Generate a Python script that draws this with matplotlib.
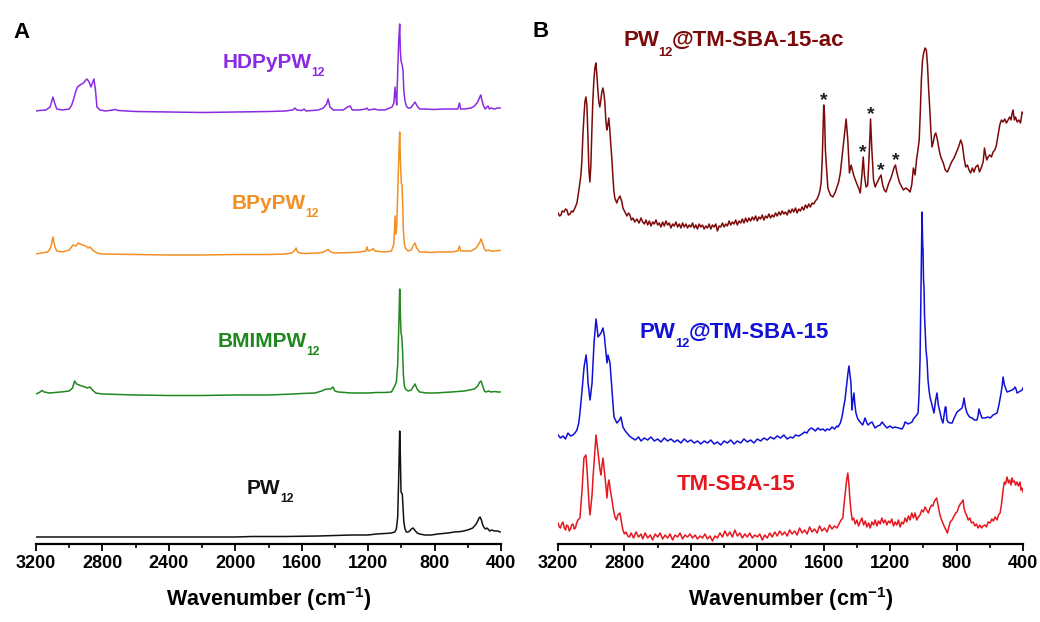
import numpy as np
import matplotlib
matplotlib.use("Agg")
import matplotlib.pyplot as plt
from matplotlib.ticker import MultipleLocator

plt.rcParams['font.family'] = ['Liberation Sans', 'DejaVu Sans']
plt.rcParams['font.weight'] = 'bold'
plt.rcParams['mathtext.fontset'] = 'custom'
plt.rcParams['mathtext.rm'] = 'Liberation Sans:bold'
plt.rcParams['mathtext.bf'] = 'Liberation Sans:bold'
plt.rcParams['mathtext.it'] = 'Liberation Sans:bold'

# Raman spectra as (wavenumber cm-1, intensity a.u.) pairs

# panel A: pure POM and the three ionic-liquid salts
hdpy = [(3200, 0), (3180, 0.5), (3140, 1), (3115, 4), (3105, 10), (3098, 14), (3088, 8), (3075, 2),
        (3040, 1), (3000, 2), (2985, 6), (2975, 11), (2960, 20), (2950, 24), (2935, 26), (2915, 28),
        (2900, 31), (2893, 32), (2880, 29), (2869, 24), (2858, 29), (2851, 32), (2842, 21), (2833, 4),
        (2815, 1), (2780, 0), (2740, 1), (2724, 1.5), (2705, 0.5), (2600, -0.5), (2400, -1), (2200, -1.5),
        (2000, -1), (1800, -0.5), (1700, 0), (1655, 1), (1640, 3), (1630, 1), (1600, 0.5), (1585, 2),
        (1575, 0), (1500, 1), (1470, 3), (1450, 7), (1441, 12), (1430, 4), (1410, 1), (1350, 1),
        (1325, 4), (1309, 5), (1295, 1), (1250, 1), (1215, 2), (1207, 3), (1198, 1), (1160, 2),
        (1140, 1), (1100, 1), (1070, 3), (1056, 4), (1045, 8), (1038, 24), (1033, 14), (1028, 6),
        (1022, 40), (1016, 70), (1010, 87), (1006, 60), (1002, 50), (998, 48), (994, 45), (990, 40),
        (985, 20), (978, 10), (970, 5), (960, 3), (945, 3), (930, 6), (918, 9), (905, 5), (890, 2),
        (860, 2), (800, 1.5), (750, 2), (700, 2), (660, 2), (650, 8), (643, 2), (620, 2), (580, 3),
        (560, 5), (540, 9), (528, 14), (522, 16), (515, 11), (505, 5), (495, 2), (485, 4), (478, 5),
        (470, 2), (460, 3), (440, 2), (420, 3), (405, 3)]

bpy = [(3200, 0), (3170, 1), (3130, 2), (3112, 6), (3098, 17), (3088, 8), (3075, 3), (3040, 2),
       (3000, 4), (2977, 9), (2960, 8), (2945, 11), (2935, 10), (2920, 9), (2900, 8), (2887, 6),
       (2875, 7), (2860, 4), (2833, 1), (2800, 0), (2600, -0.5), (2400, -1), (2200, -1), (2000, -0.5),
       (1800, -0.5), (1700, 0), (1660, 1), (1645, 3), (1634, 6), (1625, 2), (1610, 1), (1580, 0.5),
       (1500, 1), (1470, 2), (1441, 4.5), (1425, 2), (1400, 1), (1300, 1.5), (1250, 2), (1215, 3),
       (1207, 7), (1200, 3), (1180, 4), (1170, 5.5), (1160, 3), (1100, 2), (1060, 3), (1045, 10),
       (1038, 38), (1033, 20), (1028, 28), (1022, 60), (1015, 100), (1010, 122), (1005, 90), (1000, 70),
       (996, 69), (992, 50), (988, 24), (982, 10), (975, 6), (960, 3), (940, 4), (930, 8), (918, 11),
       (908, 6), (890, 2), (860, 2), (820, 1.5), (780, 2), (700, 2), (660, 3), (650, 8), (643, 3),
       (620, 3), (580, 3), (550, 6), (530, 11), (520, 15), (512, 11), (500, 5), (490, 3), (475, 4),
       (460, 3), (440, 3), (420, 3.5), (405, 3.5)]

bmim = [(3200, 0), (3180, 1.5), (3164, 3.5), (3150, 2), (3120, 1), (3050, 2), (3000, 3), (2980, 6),
        (2968, 13), (2955, 10), (2940, 9), (2925, 8), (2905, 7), (2890, 6), (2875, 7), (2860, 4),
        (2840, 1), (2800, 0), (2600, -1), (2400, -1.5), (2200, -1.5), (2000, -1), (1800, -1), (1650, 0),
        (1600, 0.5), (1520, 1), (1480, 3), (1460, 4.5), (1440, 5), (1425, 5), (1412, 7), (1400, 3),
        (1380, 2), (1300, 1), (1200, 1), (1150, 1.5), (1100, 1.5), (1060, 2), (1040, 8), (1030, 12),
        (1022, 30), (1015, 70), (1010, 105), (1006, 80), (1002, 61), (998, 58), (993, 45), (988, 20),
        (982, 8), (975, 5), (960, 3), (940, 4), (930, 7), (918, 10), (905, 5), (890, 2), (850, 1),
        (800, 1), (700, 2), (620, 3), (560, 5), (540, 8), (528, 12), (520, 13), (512, 9), (500, 3),
        (490, 2), (475, 3), (460, 2), (440, 2.5), (420, 2), (405, 2)]

pw12 = [(3200, 0), (3000, 0), (2800, 0), (2600, 0), (2400, 0), (2200, 0), (2000, 0), (1900, 0.5),
        (1700, 0.5), (1500, 1), (1400, 1.5), (1300, 2), (1200, 2), (1150, 3), (1100, 3.5), (1060, 4),
        (1040, 5), (1030, 8), (1022, 20), (1016, 60), (1010, 106), (1006, 80), (1002, 45), (998, 44),
        (994, 42), (990, 30), (985, 15), (978, 8), (970, 5), (960, 5), (950, 6), (940, 8), (930, 9),
        (920, 7), (905, 4), (890, 3), (860, 2), (820, 2), (780, 3), (720, 4), (680, 5), (640, 5.5),
        (600, 7), (570, 9), (550, 13), (540, 16), (532, 19), (526, 20), (518, 17), (510, 12), (500, 9),
        (492, 8), (485, 9), (478, 8), (468, 6), (455, 7), (440, 6), (420, 6), (405, 5)]

# panel B: support, loaded support and acid-treated loaded support
sba_ac = [(3200, 17), (3190, 14), (3182, 15), (3175, 19), (3164, 18), (3155, 21), (3146, 20), (3138, 15),
          (3128, 16), (3118, 19), (3110, 18), (3098, 22), (3086, 27), (3074, 40), (3062, 55), (3056, 70),
          (3050, 95), (3044, 113), (3038, 128), (3032, 133), (3026, 125), (3020, 95), (3014, 60), (3008, 48),
          (3002, 65), (2996, 100), (2990, 130), (2984, 150), (2978, 162), (2972, 167), (2966, 155),
          (2960, 140), (2954, 128), (2948, 123), (2942, 130), (2936, 138), (2930, 142), (2924, 137),
          (2918, 128), (2912, 110), (2906, 100), (2900, 105), (2894, 112), (2888, 100), (2882, 85),
          (2876, 72), (2870, 55), (2864, 40), (2858, 32), (2846, 27), (2840, 30), (2827, 34), (2815, 28),
          (2809, 22), (2797, 18), (2785, 14), (2775, 17), (2767, 15), (2758, 10), (2748, 12), (2738, 8),
          (2725, 11), (2712, 7), (2700, 12), (2690, 8), (2680, 6), (2670, 10), (2660, 5), (2650, 9),
          (2640, 4), (2630, 8), (2620, 6), (2610, 10), (2600, 5), (2590, 7), (2580, 3), (2570, 8),
          (2560, 4), (2550, 9), (2540, 5), (2530, 7), (2520, 2), (2510, 6), (2500, 4), (2490, 8),
          (2480, 3), (2470, 6), (2460, 2), (2450, 7), (2440, 3), (2430, 6), (2420, 2), (2410, 5),
          (2400, 3), (2390, 7), (2380, 2), (2370, 5), (2360, 1), (2350, 6), (2340, 3), (2330, 5),
          (2320, 1), (2310, 4), (2300, 2), (2290, 6), (2280, 1), (2270, 5), (2260, 3), (2250, 6),
          (2240, -1), (2230, 4), (2220, 3), (2210, 7), (2200, 3), (2190, 6), (2180, 4), (2170, 9),
          (2160, 5), (2150, 8), (2140, 6), (2130, 10), (2120, 5), (2110, 9), (2100, 7), (2090, 11),
          (2080, 7), (2070, 12), (2060, 8), (2050, 12), (2040, 9), (2030, 13), (2020, 10), (2010, 14),
          (2000, 9), (1990, 13), (1980, 11), (1970, 15), (1960, 10), (1950, 14), (1940, 12), (1930, 16),
          (1920, 12), (1910, 15), (1900, 13), (1890, 17), (1880, 14), (1870, 18), (1860, 15), (1850, 19),
          (1840, 16), (1830, 18), (1820, 15), (1810, 20), (1800, 17), (1790, 21), (1780, 18), (1770, 22),
          (1760, 17), (1750, 21), (1740, 19), (1730, 23), (1720, 20), (1710, 25), (1700, 22), (1690, 26),
          (1680, 23), (1670, 27), (1660, 26), (1650, 29), (1640, 31), (1630, 35), (1622, 40), (1615, 48),
          (1608, 75), (1600, 125), (1595, 115), (1590, 80), (1583, 63), (1575, 42), (1560, 35),
          (1545, 33), (1530, 38), (1510, 48), (1500, 57), (1485, 80), (1475, 95), (1465, 111), (1455, 90),
          (1445, 57), (1435, 65), (1420, 55), (1405, 48), (1390, 42), (1380, 37), (1370, 55), (1362, 73),
          (1355, 55), (1345, 43), (1335, 45), (1325, 80), (1318, 111), (1310, 80), (1300, 50), (1290, 43),
          (1280, 47), (1265, 52), (1255, 55), (1245, 45), (1235, 40), (1225, 38), (1210, 46), (1195, 52),
          (1175, 63), (1168, 65), (1160, 58), (1145, 48), (1130, 43), (1120, 40), (1105, 42), (1090, 40),
          (1080, 38), (1070, 45), (1060, 62), (1050, 55), (1040, 72), (1035, 77), (1025, 90), (1018, 120),
          (1012, 150), (1005, 170), (998, 177), (990, 182), (982, 180), (975, 165), (968, 140), (962, 123),
          (955, 100), (948, 83), (940, 88), (932, 95), (925, 97), (915, 90), (905, 80), (895, 73),
          (880, 67), (868, 60), (855, 58), (845, 62), (830, 68), (815, 72), (800, 78), (788, 83),
          (775, 90), (765, 85), (755, 72), (745, 63), (735, 65), (725, 60), (715, 57), (705, 62),
          (695, 58), (685, 63), (672, 65), (662, 58), (652, 62), (640, 68), (632, 82), (625, 75),
          (618, 70), (610, 73), (600, 75), (590, 73), (580, 78), (570, 80), (560, 85), (550, 95),
          (540, 105), (530, 110), (520, 108), (510, 111), (500, 107), (490, 110), (480, 113), (472, 110),
          (465, 117), (460, 120), (452, 110), (445, 113), (435, 108), (425, 110), (415, 107), (405, 118),
          (400, 117)]

sba_pw = [(3200, 10), (3185, 7), (3170, 9), (3155, 6), (3140, 12), (3125, 9), (3110, 10), (3098, 12),
          (3086, 15), (3075, 22), (3068, 32), (3055, 55), (3043, 78), (3031, 90), (3025, 80), (3019, 62),
          (3007, 45), (2995, 62), (2983, 102), (2971, 126), (2965, 118), (2959, 108), (2950, 110),
          (2941, 112), (2929, 117), (2920, 108), (2917, 102), (2905, 82), (2899, 90), (2887, 82),
          (2875, 55), (2863, 28), (2845, 22), (2830, 25), (2821, 28), (2809, 18), (2795, 14), (2785, 12),
          (2770, 9), (2754, 7), (2735, 5), (2715, 8), (2700, 4), (2680, 7), (2660, 5), (2640, 8),
          (2620, 4), (2600, 6), (2580, 3), (2560, 7), (2540, 4), (2520, 6), (2500, 3), (2480, 5),
          (2460, 2), (2440, 6), (2420, 3), (2400, 5), (2380, 2), (2360, 4), (2340, 1), (2320, 4),
          (2300, 2), (2280, 5), (2260, 1), (2240, 3), (2220, 0), (2200, 4), (2180, 2), (2160, 5),
          (2140, 1), (2120, 4), (2100, 2), (2080, 6), (2060, 3), (2040, 5), (2020, 2), (2000, 6),
          (1980, 4), (1960, 7), (1940, 5), (1920, 8), (1900, 6), (1880, 9), (1860, 7), (1840, 10),
          (1820, 6), (1800, 8), (1785, 7), (1770, 10), (1750, 9), (1730, 11), (1715, 13), (1701, 12),
          (1690, 15), (1675, 17), (1664, 16), (1650, 14), (1635, 17), (1620, 15), (1605, 16), (1590, 14),
          (1580, 16), (1565, 15), (1550, 18), (1535, 16), (1520, 19), (1514, 18), (1500, 22), (1490, 28),
          (1480, 38), (1472, 45), (1462, 60), (1454, 72), (1448, 79), (1442, 70), (1436, 62), (1430, 35),
          (1424, 45), (1418, 52), (1412, 40), (1406, 32), (1395, 26), (1381, 23), (1365, 20), (1351, 27),
          (1340, 22), (1333, 20), (1320, 22), (1309, 23), (1300, 20), (1291, 17), (1275, 19), (1260, 20),
          (1249, 23), (1235, 20), (1219, 17), (1200, 19), (1185, 17), (1171, 18), (1150, 17), (1128, 16),
          (1118, 19), (1110, 23), (1090, 21), (1068, 23), (1060, 26), (1050, 28), (1040, 30), (1032, 32),
          (1026, 50), (1020, 85), (1014, 160), (1008, 233), (1004, 200), (1002, 195), (999, 165),
          (996, 157), (993, 130), (990, 118), (984, 95), (978, 85), (972, 65), (966, 55), (960, 48),
          (948, 40), (942, 36), (936, 32), (926, 45), (918, 52), (910, 40), (900, 33), (891, 26),
          (882, 22), (875, 30), (868, 38), (864, 38), (858, 25), (851, 23), (840, 22), (827, 22),
          (812, 28), (797, 33), (782, 35), (767, 37), (760, 42), (755, 47), (747, 38), (737, 32),
          (722, 28), (707, 27), (692, 25), (677, 25), (670, 30), (665, 36), (658, 32), (647, 27),
          (630, 27), (610, 28), (598, 27), (580, 30), (556, 32), (545, 40), (532, 52), (525, 60),
          (520, 68), (512, 60), (496, 53), (480, 54), (466, 55), (456, 56), (448, 58), (442, 56),
          (436, 52), (425, 53), (415, 54), (406, 55), (400, 57)]

sba = [(3200, 17), (3192, 13), (3185, 12), (3178, 16), (3170, 18), (3162, 12), (3155, 10), (3148, 15),
       (3140, 14), (3132, 9), (3125, 11), (3118, 15), (3110, 16), (3102, 11), (3095, 12), (3088, 17),
       (3080, 20), (3068, 22), (3055, 50), (3044, 82), (3032, 85), (3025, 70), (3019, 53), (3013, 35),
       (3007, 25), (2995, 45), (2989, 63), (2977, 90), (2971, 105), (2962, 92), (2959, 87), (2947, 70),
       (2941, 65), (2935, 75), (2929, 82), (2920, 68), (2912, 55), (2905, 42), (2899, 55), (2893, 60),
       (2885, 50), (2875, 40), (2866, 30), (2857, 23), (2848, 20), (2840, 25), (2827, 27), (2815, 15),
       (2809, 10), (2800, 6), (2790, 8), (2780, 4), (2770, 3), (2760, 7), (2745, 2), (2730, 8),
       (2715, 3), (2700, 6), (2690, 1), (2675, 7), (2660, 2), (2645, 5), (2630, 0), (2615, 6),
       (2600, 3), (2585, 7), (2570, 1), (2555, 5), (2540, 2), (2525, 6), (2510, 0), (2495, 5),
       (2480, 3), (2465, 7), (2450, 1), (2435, 5), (2420, 3), (2405, 6), (2390, 2), (2375, 5),
       (2360, 1), (2345, 4), (2330, 2), (2315, 6), (2300, 1), (2285, 4), (2270, -1), (2255, 4),
       (2240, 2), (2225, 7), (2210, 3), (2195, 9), (2180, 4), (2165, 8), (2150, 3), (2135, 10),
       (2120, 4), (2105, 7), (2090, 2), (2075, 6), (2060, 3), (2045, 7), (2030, 2), (2015, 5),
       (2000, 3), (1985, 6), (1970, 0), (1955, 5), (1940, 2), (1925, 7), (1910, 3), (1895, 8),
       (1880, 4), (1865, 9), (1850, 5), (1835, 8), (1820, 4), (1805, 10), (1790, 6), (1775, 9),
       (1760, 5), (1745, 12), (1730, 7), (1715, 10), (1700, 6), (1685, 13), (1670, 8), (1655, 11),
       (1640, 7), (1625, 14), (1610, 9), (1595, 12), (1580, 8), (1565, 15), (1550, 11), (1535, 14),
       (1520, 12), (1505, 17), (1495, 20), (1485, 22), (1478, 35), (1470, 48), (1462, 60), (1455, 67),
       (1448, 55), (1442, 40), (1435, 28), (1428, 20), (1420, 22), (1410, 16), (1400, 20), (1390, 14),
       (1381, 18), (1370, 22), (1360, 15), (1350, 19), (1340, 13), (1330, 17), (1320, 12), (1310, 18),
       (1300, 15), (1290, 20), (1280, 14), (1270, 19), (1260, 16), (1250, 22), (1240, 17), (1230, 20),
       (1220, 15), (1210, 19), (1200, 17), (1190, 21), (1180, 14), (1170, 18), (1160, 15), (1150, 20),
       (1140, 13), (1130, 18), (1120, 16), (1110, 22), (1100, 18), (1090, 24), (1080, 20), (1070, 27),
       (1060, 22), (1050, 27), (1040, 20), (1030, 23), (1020, 25), (1010, 30), (1000, 28), (990, 33),
       (980, 30), (970, 27), (960, 32), (950, 35), (942, 34), (936, 38), (928, 40), (920, 42),
       (912, 35), (900, 25), (890, 20), (880, 16), (870, 12), (860, 9), (855, 7), (848, 12),
       (838, 18), (827, 20), (815, 24), (805, 27), (797, 28), (787, 33), (778, 36), (768, 38),
       (761, 40), (755, 32), (749, 28), (740, 25), (730, 20), (720, 22), (710, 17), (700, 18),
       (690, 14), (680, 16), (670, 12), (660, 15), (650, 12), (641, 14), (630, 15), (620, 13),
       (610, 18), (598, 17), (588, 21), (578, 19), (568, 23), (556, 20), (548, 25), (538, 27),
       (530, 35), (520, 50), (512, 58), (505, 56), (496, 63), (488, 57), (480, 60), (472, 55),
       (465, 62), (460, 58), (452, 59), (445, 55), (436, 58), (428, 54), (418, 58), (412, 50),
       (406, 52), (400, 48)]

# bands of the acid-treated sample marked with an asterisk
star_wn = [1600, 1362, 1318, 1255, 1168]

# sample names split into (text, is_subscript) pieces
names_a = [[('HDPyPW', False), ('12', True)],
           [('BPyPW', False), ('12', True)],
           [('BMIMPW', False), ('12', True)],
           [('PW', False), ('12', True)]]
names_b = [[('PW', False), ('12', True), ('@TM-SBA-15-ac', False)],
           [('PW', False), ('12', True), ('@TM-SBA-15', False)],
           [('TM-SBA-15', False)]]

# stacking: vertical shift of each trace, label anchor (axes fraction), colour
H = 544
panel_a = [
    (hdpy, 433, (0.402, 0.875), '#8a2be2'),
    (bpy, 290, (0.4215, 0.616), '#f39023'),
    (bmim, 150, (0.391, 0.362), '#1f881f'),
    (pw12, 7, (0.4538, 0.092), '#111111'),
]
panel_b = [
    (sba_ac, 314, (0.1398, 0.915), '#7d0a0a'),
    (sba_pw, 99, (0.1763, 0.379), '#1010d8'),
    (sba, 4, (0.256, 0.099), '#e8161e'),
]

fig = plt.figure(figsize=(10.4, 6.22), dpi=100)
axA = fig.add_axes([36 / 1040, 78 / 622, 465 / 1040, H / 622])
axB = fig.add_axes([558 / 1040, 78 / 622, 465 / 1040, H / 622])


def style(ax):
    ax.set_xlim(3200, 400)
    ax.set_ylim(0, H)
    for s in ('left', 'right', 'top'):
        ax.spines[s].set_visible(False)
    ax.spines['bottom'].set_linewidth(1.6)
    ax.yaxis.set_visible(False)
    ax.xaxis.set_major_locator(MultipleLocator(400))
    ax.xaxis.set_minor_locator(MultipleLocator(200))
    ax.tick_params(axis='x', which='major', length=5, width=1.3, direction='out',
                   labelsize=13, pad=3)
    ax.tick_params(axis='x', which='minor', length=3, width=1.2, direction='out')
    ax.set_xlabel('Wavenumber (cm$^{-1}$)', fontsize=15.5, fontweight='bold', labelpad=9)
    ax.patch.set_alpha(0)


def put_label(ax, pos, pieces, color, size):
    # main text sits on the baseline; subscripts hang just below it
    main = ax.text(pos[0], pos[1], pieces[0][0], transform=ax.transAxes, color=color,
                   fontsize=size, fontweight='bold', ha='left', va='baseline')
    prev = main
    for txt, sub in pieces[1:]:
        if sub:
            prev = ax.annotate(txt, xy=(1, 0), xycoords=(prev, main), xytext=(-0.5, 3.4),
                               textcoords='offset points', color=color, fontsize=size * 0.58,
                               fontweight='bold', ha='left', va='top')
        else:
            prev = ax.annotate(txt, xy=(1, 0), xycoords=(prev, main), xytext=(-0.6, 0),
                               textcoords='offset points', color=color, fontsize=size,
                               fontweight='bold', ha='left', va='bottom')


def draw(ax, traces, names, size):
    for (spec, shift, pos, color), pieces in zip(traces, names):
        wn, inten = np.array(spec, dtype=float).T
        ax.plot(wn, inten + shift, color=color, lw=1.1, solid_joinstyle='round')
        put_label(ax, pos, pieces, color, size)


style(axA)
style(axB)
draw(axA, panel_a, names_a, 15)
draw(axB, panel_b, names_b, 16)

# asterisks above the bands of the acid-treated sample
wn_ac, int_ac = np.array(sba_ac, dtype=float).T
for w in star_wn:
    near = np.abs(wn_ac - w) <= 8
    top = int_ac[near].max() + panel_b[0][1]
    axB.text(w, top, '*', ha='center', va='baseline', fontsize=14,
             fontweight='bold', color='#222222')

fig.text(13 / 1040, 1 - 38 / 622, 'A', fontsize=16, fontweight='bold', ha='left', va='baseline')
fig.text(533 / 1040, 1 - 37 / 622, 'B', fontsize=16, fontweight='bold', ha='left', va='baseline')

fig.savefig('out.png', dpi=100)
